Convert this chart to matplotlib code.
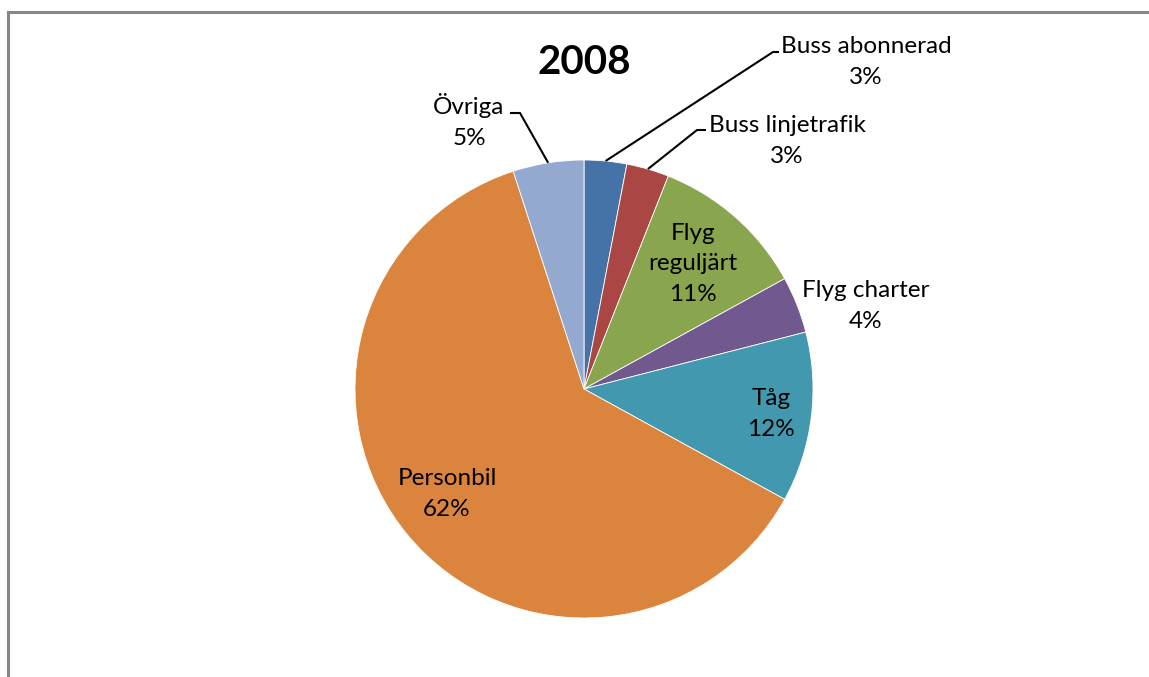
import matplotlib
matplotlib.use("Agg")
import matplotlib.pyplot as plt
import numpy as np
from matplotlib.lines import Line2D

plt.rcParams['font.family'] = ['Lato', 'DejaVu Sans']

title = "2008"
categories = ["Buss abonnerad", "Buss linjetrafik", "Flyg reguljärt", "Flyg charter",
              "Tåg", "Personbil", "Övriga"]
values = [3, 3, 11, 4, 12, 62, 5]
label_texts = ["Buss abonnerad\n3%", "Buss linjetrafik\n3%", "Flyg\nreguljärt\n11%",
               "Flyg charter\n4%", "Tåg\n12%", "Personbil\n62%", "Övriga\n5%"]
colors = ["#4572A7", "#AA4643", "#89A54E", "#71588F", "#4198AF", "#DB843D", "#93A9CF"]

W, H = 1149, 677
fig = plt.figure(figsize=(W / 100, H / 100), dpi=100)
ax = fig.add_axes([0, 0, 1, 1])

cx, cy, R = 584, H - 389, 229
wedges, _ = ax.pie(values, colors=colors, startangle=90, counterclock=False,
                   center=(cx, cy), radius=R, frame=True,
                   wedgeprops=dict(linewidth=0.6, edgecolor="white"))
ax.set_xlim(0, W)
ax.set_ylim(0, H)
ax.set_aspect('auto')
ax.axis('off')

# chart border (cropped at right/bottom)
border = Line2D([8 / W, 8 / W, 1.1], [-0.1, 1 - 12 / H, 1 - 12 / H],
                transform=fig.transFigure, color="#868686", linewidth=2.2,
                solid_joinstyle='miter', solid_capstyle='butt')
border.set_clip_on(False)
fig.add_artist(border)

def py(y):
    return H - y

# label block centers (pixel coords, layout)
label_pos = [(866, 62), (787, 141), (693, 264), (866, 306), (771, 414), (447, 494), (469, 121)]
for txt, (lx, ly) in zip(label_texts, label_pos):
    ax.text(lx, py(ly), txt, ha='center', va='center', fontsize=17.5,
            linespacing=1.55, color='black')

# leader lines for outside labels: (index, elbow point, end point)
leaders = {0: ((773, 52), (779, 52)), 1: ((697, 130), (706, 130)), 6: ((520, 113), (510, 113))}
for i, (elbow, end) in leaders.items():
    w = wedges[i]
    mid = np.deg2rad((w.theta1 + w.theta2) / 2)
    sx, sy = cx + R * np.cos(mid), cy + R * np.sin(mid)
    ax.plot([sx, elbow[0], end[0]], [sy, py(elbow[1]), py(end[1])],
            color='black', linewidth=1.5, solid_capstyle='butt')

ax.text(584, py(62), title, ha='center', va='center', fontsize=29, fontweight='bold')

fig.savefig("out.png", dpi=100)
